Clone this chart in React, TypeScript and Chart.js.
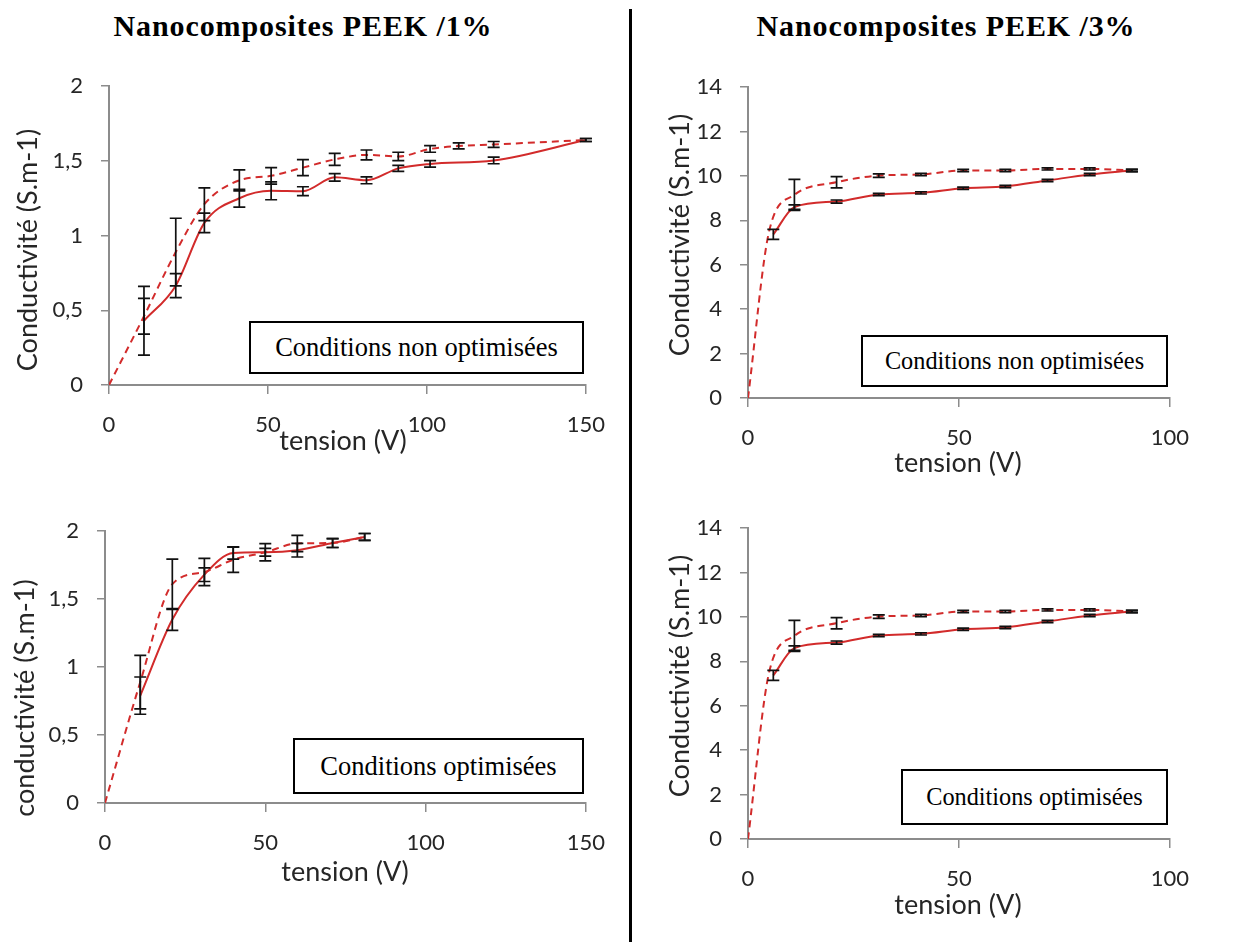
import React, { useEffect, useRef } from "react";
import { Chart, registerables } from "chart.js";

Chart.register(...registerables);

// ---------- PEEK /1% — conditions non optimisées ----------
const pk1NonOptSolidX = [11, 21, 30, 41, 51, 61, 71, 81, 91, 101, 121, 150];
const pk1NonOptSolidY = [0.43, 0.665, 1.085, 1.25, 1.3, 1.297, 1.39, 1.37, 1.45, 1.48, 1.503, 1.64];
const pk1NonOptSolidErr = [0.23, 0.08, 0.065, 0.06, 0.06, 0.03, 0.025, 0.023, 0.02, 0.022, 0.022, 0.01];
const pk1NonOptDashX = [0, 11, 21, 30, 41, 51, 61, 71, 81, 91, 101, 110, 121, 150];
const pk1NonOptDashY = [0, 0.46, 0.89, 1.21, 1.37, 1.4, 1.455, 1.51, 1.54, 1.53, 1.58, 1.6, 1.61, 1.64];
const pk1NonOptDashErr = [null, 0.12, 0.226, 0.11, 0.07, 0.055, 0.053, 0.04, 0.033, 0.028, 0.022, 0.02, 0.02, 0.01];

// ---------- PEEK /1% — conditions optimisées ----------
const pk1OptSolidX = [11, 21, 31, 40, 50, 60, 71, 81];
const pk1OptSolidY = [0.79, 1.35, 1.68, 1.84, 1.845, 1.86, 1.913, 1.958];
const pk1OptSolidErr = [0.137, 0.08, 0.05, 0.045, 0.028, 0.05, 0.033, 0.025];
const pk1OptDashX = [0, 11, 21, 31, 40, 50, 60, 71, 81];
const pk1OptDashY = [0, 0.89, 1.61, 1.7, 1.79, 1.845, 1.91, 1.913, 1.958];
const pk1OptDashErr = [null, 0.197, 0.185, 0.1, 0.093, 0.063, 0.06, 0.033, 0.025];

// ---------- PEEK /3% (same curves in both panels) ----------
const pk3SolidX = [6, 11, 21, 31, 41, 51, 61, 71, 81, 91];
const pk3SolidY = [7.37, 8.6, 8.85, 9.17, 9.24, 9.45, 9.53, 9.8, 10.07, 10.25];
const pk3SolidErr = [0.225, 0.1, 0.07, 0.05, 0.05, 0.05, 0.05, 0.05, 0.05, 0.05];
const pk3DashX = [0, 5, 11, 21, 31, 41, 51, 61, 71, 81, 91];
const pk3DashY = [0, 7.5, 9.15, 9.72, 10.02, 10.07, 10.25, 10.25, 10.32, 10.32, 10.25];
const pk3DashErr = [null, null, 0.7, 0.255, 0.08, 0.05, 0.05, 0.05, 0.05, 0.05, 0.05];

// ---------- axes ----------
const pk1XTicks = [0, 50, 100, 150];
const pk1YTicks = [0, 0.5, 1, 1.5, 2];
const pk3XTicks = [0, 50, 100];
const pk3YTicks = [0, 2, 4, 6, 8, 10, 12, 14];

const RED = "#d22b2b";
const AXIS = "#8c8c8c";

type Series = { x: number[]; y: number[]; err: (number | null)[]; dashed: boolean };

const errorBarPlugin = {
  id: "errorBars",
  afterDatasetsDraw(chart: any) {
    const { ctx } = chart;
    const xs = chart.scales.x;
    const ys = chart.scales.y;
    ctx.save();
    ctx.strokeStyle = "#111";
    ctx.lineWidth = 1.7;
    chart.data.datasets.forEach((ds: any) => {
      (ds.errs || []).forEach((e: number | null, i: number) => {
        if (e == null) return;
        const pt = ds.data[i];
        const px = xs.getPixelForValue(pt.x);
        const t = ys.getPixelForValue(pt.y + e);
        const b = ys.getPixelForValue(pt.y - e);
        ctx.beginPath();
        ctx.moveTo(px, t);
        ctx.lineTo(px, b);
        ctx.moveTo(px - 6, t);
        ctx.lineTo(px + 6, t);
        ctx.moveTo(px - 6, b);
        ctx.lineTo(px + 6, b);
        ctx.stroke();
      });
    });
    ctx.restore();
  },
};

type Area = { L: number; T: number; R: number; B: number };

function Panel({ area, xTicks, yTicks, series }: { area: Area; xTicks: number[]; yTicks: number[]; series: Series[] }) {
  const ref = useRef<HTMLCanvasElement>(null);
  const padL = 10, padT = 15, padR = 30, padB = 5, Wy = 60, Hx = 60;
  const left0 = area.L - Wy - padL;
  const top0 = area.T - padT;
  const width0 = area.R + padR - left0;
  const height0 = area.B + Hx + padB - top0;

  useEffect(() => {
    const canvas = ref.current as HTMLCanvasElement;
    const xMax = xTicks[xTicks.length - 1];
    const yMax = yTicks[yTicks.length - 1];
    const chart = new Chart(canvas, {
      type: "scatter",
      data: {
        datasets: series.map((s) => ({
          data: s.x.map((x, i) => ({ x, y: s.y[i] })),
          errs: s.err,
          showLine: true,
          borderColor: RED,
          backgroundColor: RED,
          borderWidth: 2,
          borderDash: s.dashed ? [7, 5] : [],
          pointRadius: 0,
          cubicInterpolationMode: "monotone",
          fill: false,
        })) as any,
      },
      options: {
        responsive: false,
        maintainAspectRatio: false,
        animation: false,
        events: [],
        layout: { padding: { left: padL, top: padT, right: padR, bottom: padB } },
        plugins: { legend: { display: false }, tooltip: { enabled: false }, title: { display: false } },
        scales: {
          x: {
            type: "linear",
            min: 0,
            max: xMax,
            afterFit: (s: any) => { s.height = Hx; },
            afterBuildTicks: (s: any) => { s.ticks = xTicks.map((v) => ({ value: v })); },
            ticks: { font: { family: "Lato", size: 22 }, color: "#262626", padding: 18, maxRotation: 0, autoSkip: false },
            grid: { drawOnChartArea: false, drawTicks: true, tickLength: 9, color: AXIS, lineWidth: 1.5 },
            border: { display: true, color: AXIS, width: 2 },
          },
          y: {
            type: "linear",
            min: 0,
            max: yMax,
            afterFit: (s: any) => { s.width = Wy; },
            afterBuildTicks: (s: any) => { s.ticks = yTicks.map((v) => ({ value: v })); },
            ticks: {
              font: { family: "Lato", size: 22 },
              color: "#262626",
              padding: 18,
              autoSkip: false,
              callback: (v: any) => String(v).replace(".", ","),
            },
            grid: { drawOnChartArea: false, drawTicks: true, tickLength: 8, color: AXIS, lineWidth: 1.5 },
            border: { display: true, color: AXIS, width: 2 },
          },
        },
      } as any,
      plugins: [errorBarPlugin],
    });

    // second pass: place the canvas so that the plot area lands exactly on the target rectangle
    const ca = chart.chartArea;
    const mL = ca.left, mT = ca.top, mR = width0 - ca.right, mB = height0 - ca.bottom;
    const w = Math.round(mL + (area.R - area.L) + mR);
    const h = Math.round(mT + (area.B - area.T) + mB);
    canvas.style.left = `${Math.round(area.L - mL)}px`;
    canvas.style.top = `${Math.round(area.T - mT)}px`;
    canvas.style.width = `${w}px`;
    canvas.style.height = `${h}px`;
    chart.resize(w, h);

    return () => chart.destroy();
  }, []);

  return (
    <canvas
      ref={ref}
      width={width0}
      height={height0}
      style={{ position: "absolute", left: left0, top: top0, width: width0, height: height0 }}
    />
  );
}

const axisTitle: React.CSSProperties = {
  position: "absolute",
  fontFamily: "Lato",
  fontSize: 27,
  lineHeight: 1,
  color: "#262626",
  whiteSpace: "nowrap",
};

function XTitle({ cx, cy }: { cx: number; cy: number }) {
  return <div style={{ ...axisTitle, left: cx, top: cy, transform: "translate(-50%, -50%)" }}>tension (V)</div>;
}

function YTitle({ cx, cy, text }: { cx: number; cy: number; text: string }) {
  return (
    <div style={{ ...axisTitle, left: cx, top: cy, transform: "translate(-50%, -50%) rotate(-90deg)" }}>{text}</div>
  );
}

function Note({ l, t, w, h, size, text }: { l: number; t: number; w: number; h: number; size: number; text: string }) {
  return (
    <div
      style={{
        position: "absolute",
        left: l,
        top: t,
        width: w,
        height: h,
        boxSizing: "border-box",
        border: "2px solid #000",
        background: "#fff",
        display: "flex",
        alignItems: "center",
        justifyContent: "center",
        fontFamily: "'Liberation Serif', 'Times New Roman', serif",
        fontSize: size,
        color: "#000",
        whiteSpace: "nowrap",
      }}
    >
      {text}
    </div>
  );
}

function Title({ cx, text }: { cx: number; text: string }) {
  return (
    <div
      style={{
        position: "absolute",
        left: cx,
        top: 11,
        transform: "translateX(-50%)",
        fontFamily: "'Liberation Serif', 'Times New Roman', serif",
        fontWeight: "bold",
        fontSize: 30,
        letterSpacing: 0.9,
        lineHeight: 1,
        color: "#000",
        whiteSpace: "nowrap",
      }}
    >
      {text}
    </div>
  );
}

export default function App() {
  const pk1NonOpt: Series[] = [
    { x: pk1NonOptSolidX, y: pk1NonOptSolidY, err: pk1NonOptSolidErr, dashed: false },
    { x: pk1NonOptDashX, y: pk1NonOptDashY, err: pk1NonOptDashErr, dashed: true },
  ];
  const pk1Opt: Series[] = [
    { x: pk1OptSolidX, y: pk1OptSolidY, err: pk1OptSolidErr, dashed: false },
    { x: pk1OptDashX, y: pk1OptDashY, err: pk1OptDashErr, dashed: true },
  ];
  const pk3: Series[] = [
    { x: pk3SolidX, y: pk3SolidY, err: pk3SolidErr, dashed: false },
    { x: pk3DashX, y: pk3DashY, err: pk3DashErr, dashed: true },
  ];

  return (
    <div style={{ position: "absolute", left: 0, top: 0, width: 1241, height: 942, background: "#fff", overflow: "hidden" }}>
      <Title cx={303} text="Nanocomposites PEEK /1%" />
      <Title cx={946} text="Nanocomposites PEEK /3%" />
      <div style={{ position: "absolute", left: 629, top: 9, width: 2.5, height: 933, background: "#000" }} />

      <Panel area={{ L: 109, T: 86, R: 586, B: 385 }} xTicks={pk1XTicks} yTicks={pk1YTicks} series={pk1NonOpt} />
      <Panel area={{ L: 748, T: 87, R: 1170, B: 398 }} xTicks={pk3XTicks} yTicks={pk3YTicks} series={pk3} />
      <Panel area={{ L: 105, T: 531, R: 586, B: 803 }} xTicks={pk1XTicks} yTicks={pk1YTicks} series={pk1Opt} />
      <Panel area={{ L: 748, T: 528, R: 1170, B: 839 }} xTicks={pk3XTicks} yTicks={pk3YTicks} series={pk3} />

      <XTitle cx={343} cy={439} />
      <XTitle cx={958} cy={461} />
      <XTitle cx={345} cy={870} />
      <XTitle cx={958} cy={903} />

      <YTitle cx={26} cy={250} text="Conductivité (S.m-1)" />
      <YTitle cx={678} cy={235} text="Conductivité (S.m-1)" />
      <YTitle cx={23} cy={698} text="conductivité (S.m-1)" />
      <YTitle cx={678} cy={676} text="Conductivité (S.m-1)" />

      <Note l={249} t={321} w={335} h={53} size={26.5} text="Conditions non optimisées" />
      <Note l={861} t={335} w={307} h={52} size={24.3} text="Conditions non optimisées" />
      <Note l={293} t={738} w={291} h={56} size={26.5} text="Conditions optimisées" />
      <Note l={901} t={769} w={267} h={56} size={24.3} text="Conditions optimisées" />
    </div>
  );
}
